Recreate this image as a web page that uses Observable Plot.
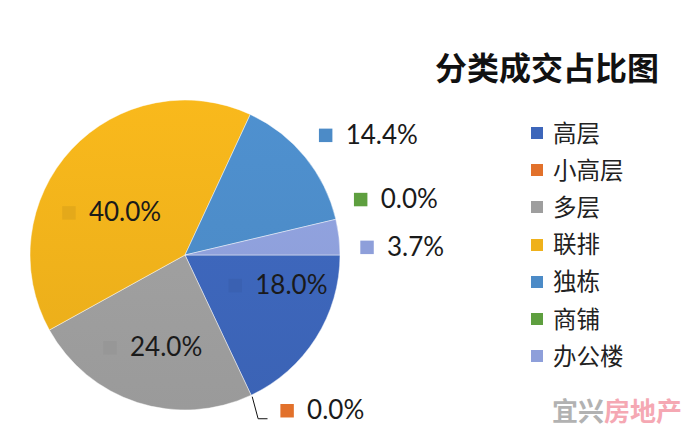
<!DOCTYPE html>
<html><head><meta charset="utf-8">
<script src="https://cdn.jsdelivr.net/npm/d3@7"></script>
<script src="https://cdn.jsdelivr.net/npm/@observablehq/plot@0.6"></script>
<style>
body{margin:0;background:#fff;}
#wrap{position:relative;width:700px;height:446px;overflow:hidden;background:#fff;font-family:Lato,"Noto Sans CJK SC",sans-serif;}
#wrap svg{position:absolute;left:0;top:0;}
#title{position:absolute;left:380px;width:334px;top:43px;text-align:center;font-family:"Noto Sans CJK SC",sans-serif;font-weight:700;font-size:32px;line-height:46px;color:#111;}
#legend{position:absolute;left:531px;top:113px;}
.item{height:37.2px;display:flex;align-items:center;font-family:"Noto Sans CJK SC",sans-serif;font-size:23.5px;color:#222;}
.sw{width:12px;height:12px;margin-right:10px;margin-top:3px;}
#wm{position:absolute;left:552px;top:392px;font-family:"Noto Sans CJK SC",sans-serif;font-weight:700;font-size:26px;line-height:36px;opacity:0.65;}
</style></head><body><div id="wrap"></div>
<script>
// ---- data ----
const categories = ["高层", "小高层", "多层", "联排", "独栋", "商铺", "办公楼"];
const shares = [18.0, 0.0, 24.0, 40.0, 14.4, 0.0, 3.7];
const valueLabels = ["18.0%", "0.0%", "24.0%", "40.0%", "14.4%", "0.0%", "3.7%"];
const colors = ["#3D66BA", "#E2712B", "#9E9E9E", "#EFB11B", "#4C8BC7", "#5E9F3F", "#8E9FDA"];
const chartTitle = "分类成交占比图";
const watermark = ["宜兴", "房地产"];

// ---- layout (styling only) ----
const CX = 185, CY = 255, R = 155;
const outside = [false, true, false, false, true, true, true];
const nudge = [[-34,-23],[9,-41],[-45,-2],[-44,25],[-28,17],[-36,-6],[-34,17]]; // px, label key offset

const arcs = d3.pie().sort(null).value(d => d)
  .startAngle(Math.PI / 2).endAngle(Math.PI / 2 + 2 * Math.PI)(shares);

const labelData = arcs.map((a, i) => {
  const m = (a.startAngle + a.endAngle) / 2;
  const rf = outside[i] ? 1.4 : 0.64;
  return {
    cat: categories[i], text: valueLabels[i], i,
    x: rf * Math.sin(m) + nudge[i][0] / R,
    y: -rf * Math.cos(m) + nudge[i][1] / R,
    key: outside[i] ? colors[i] : d3.color(colors[i]).darker(0.13).formatHex()
  };
});

// leader line for 小高层
const lead = (() => {
  const a = arcs[1], m = a.startAngle;
  const L = labelData[1];
  return [
    {x: Math.sin(m) * 1.01, y: -Math.cos(m) * 1.01},
    {x: L.x - 29 / R, y: L.y + 8 / R},
    {x: L.x - 20 / R, y: L.y + 8 / R}
  ];
})();

function pieMark(index, scales) {
  const cx = scales.x(0), cy = scales.y(0), rr = scales.x(1) - scales.x(0);
  const g = d3.create("svg:g");
  const defs = g.append("defs");
  colors.forEach((c, i) => {
    const lg = defs.append("linearGradient").attr("id", "grad" + i)
      .attr("gradientUnits", "userSpaceOnUse")
      .attr("x1", 0).attr("y1", -rr).attr("x2", 0).attr("y2", rr);
    lg.append("stop").attr("offset", "0%").attr("stop-color", d3.color(c).brighter(0.12).formatHex());
    lg.append("stop").attr("offset", "100%").attr("stop-color", d3.color(c).darker(0.08).formatHex());
  });
  const arc = d3.arc().innerRadius(0).outerRadius(rr);
  g.append("g").attr("transform", `translate(${cx},${cy})`)
    .selectAll("path").data(arcs.filter(a => a.value > 0)).join("path")
    .attr("d", arc)
    .attr("fill", d => `url(#grad${d.index})`)
    .attr("stroke", "rgba(255,255,255,0.55)")
    .attr("stroke-width", 0.8);
  return g.node();
}

const plot = Plot.plot({
  width: 700, height: 446, margin: 0,
  x: {domain: [-1, 1], range: [CX - R, CX + R], axis: null},
  y: {domain: [-1, 1], range: [CY - R, CY + R], axis: null},
  style: {background: "transparent"},
  marks: [
    pieMark,
    Plot.line(lead, {x: "x", y: "y", stroke: "#111", strokeWidth: 1}),
    Plot.dot(labelData, {x: "x", y: "y", symbol: "square", r: 7.6, fill: "key", stroke: "none"}),
    Plot.text(labelData, {x: "x", y: "y", text: "text", dx: 20, textAnchor: "start",
      fontSize: 26, fill: "#1a1a1a", fontFamily: "Lato, 'Noto Sans', sans-serif", lineAnchor: "middle"})
  ]
});

const wrap = document.getElementById("wrap");
wrap.appendChild(plot);

const t = document.createElement("div");
t.id = "title"; t.textContent = chartTitle;
wrap.appendChild(t);

const lg = document.createElement("div");
lg.id = "legend";
categories.forEach((c, i) => {
  const it = document.createElement("div");
  it.className = "item";
  const sw = document.createElement("span");
  sw.className = "sw"; sw.style.background = colors[i];
  const tx = document.createElement("span");
  tx.textContent = c;
  it.appendChild(sw); it.appendChild(tx);
  lg.appendChild(it);
});
wrap.appendChild(lg);

const wm = document.createElement("div");
wm.id = "wm";
const w1 = document.createElement("span"); w1.textContent = watermark[0]; w1.style.color = "#8a8a8a";
const w2 = document.createElement("span"); w2.textContent = watermark[1]; w2.style.color = "#f07a8c";
wm.appendChild(w1); wm.appendChild(w2);
wrap.appendChild(wm);
</script></body></html>
